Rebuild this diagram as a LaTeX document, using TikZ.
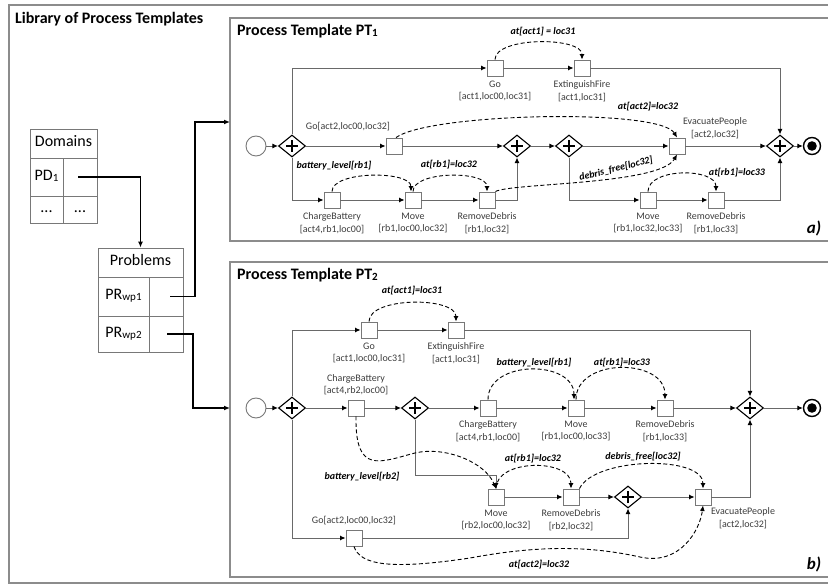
\documentclass[tikz,border=0pt]{standalone}
\usepackage{fontspec}
\setmainfont{Carlito}
\usetikzlibrary{shapes.geometric,arrows.meta,positioning}

\definecolor{framegray}{RGB}{140,140,140}
\definecolor{linegray}{RGB}{105,105,105}
\definecolor{boxgray}{RGB}{120,120,120}
\definecolor{textgray}{RGB}{60,60,60}

\newcommand\smallsub[1]{\raisebox{-0.8pt}{\fontsize{11}{11}\selectfont #1}}

\tikzset{
  panel/.style={draw=framegray, line width=1.5pt},
  heading/.style={font=\fontsize{16}{19}\selectfont\bfseries, inner sep=0pt, anchor=base west},
  cell/.style={draw=boxgray, line width=0.8pt, inner sep=0pt,
    font=\fontsize{16}{19}\selectfont, text height=11pt, text depth=4pt},
  task/.style={draw=boxgray, fill=white, line width=0.9pt, minimum size=16pt, inner sep=0pt},
  gate/.style={diamond, draw, fill=white, line width=1.1pt,
    minimum width=27pt, minimum height=22pt, inner sep=0pt,
    path picture={
      \draw[line width=2.6pt]
        ([xshift=-6pt]path picture bounding box.center) -- ([xshift=6pt]path picture bounding box.center)
        ([yshift=-6pt]path picture bounding box.center) -- ([yshift=6pt]path picture bounding box.center);
    }},
  startev/.style={circle, draw=boxgray, line width=0.9pt, minimum size=20pt, inner sep=0pt},
  endev/.style={circle, draw, line width=1.4pt, minimum size=17pt, inner sep=0pt,
    path picture={\fill (path picture bounding box.center) circle (4.8pt);}},
  flow/.style={draw=linegray, line width=0.9pt, -{Latex[length=5.5pt,width=5pt,color=black]}},
  dep/.style={dash pattern=on 4pt off 2.5pt, line width=0.9pt, -{Latex[length=5.5pt,width=5pt]}},
  link/.style={line width=1.2pt, -{Latex[length=6pt,width=5pt]}},
  tlab/.style={font=\fontsize{10}{12.5}\selectfont, text=textgray, align=center, inner sep=1pt},
  dlab/.style={font=\fontsize{10}{12}\selectfont\bfseries\itshape, inner sep=1pt},
  tag/.style={font=\fontsize{17}{17}\selectfont\bfseries\itshape, inner sep=0pt}
}

\begin{document}
\begin{tikzpicture}[x=1pt,y=-1pt]
  \useasboundingbox (0,0) rectangle (828,585);
  \draw[panel] (9,5) rectangle (840,583);
  \draw[panel] (230,18) rectangle (840,241);
  \draw[panel] (230,262) rectangle (840,577);
  \node[heading] (lib) at (15,23.3) {Library of Process Templates};
  \node[heading] (pt1t) at (237,35.3) {Process Template PT\smallsub{1}};
  \node[heading] (pt2t) at (237,279.5) {Process Template PT\smallsub{2}};
  \node[tag] (taga) at (814,228) {a)};
  \node[tag] (tagb) at (814,564) {b)};

  % domains and problems
  \node[cell, minimum width=67pt, minimum height=29pt] (dom) at (63.5,143.5) {Domains};
  \node[cell, minimum width=33pt, minimum height=38pt] (pdk) at (46.5,177) {PD\smallsub{1}};
  \node[cell, minimum width=34pt, minimum height=38pt] (pdv) at (80,177) {};
  \node[cell, minimum width=33pt, minimum height=27pt] (dk3) at (46.5,209.5) {...};
  \node[cell, minimum width=34pt, minimum height=27pt] (dv3) at (80,209.5) {...};
  \node[cell, minimum width=85pt, minimum height=29pt] (probh) at (140.5,262.5) {Problems};
  \node[cell, minimum width=51pt, minimum height=39pt] (pr1k) at (123.5,296.5) {PR\smallsub{wp1}};
  \node[cell, minimum width=34pt, minimum height=39pt] (pr1v) at (166,296.5) {};
  \node[cell, minimum width=51pt, minimum height=36pt] (pr2k) at (123.5,334) {PR\smallsub{wp2}};
  \node[cell, minimum width=34pt, minimum height=36pt] (pr2v) at (166,334) {};
  \coordinate (pt1in) at (230,122);
  \coordinate (pt2in) at (230,408);
  \draw[link] ([xshift=-2pt]pdv.center) -| (probh.north);
  \draw[link] ([xshift=4pt]pr1v.center) -- ++(25,0) |- (pt1in);
  \draw[link] ([xshift=1pt]pr2v.center) -- ++(26,0) |- (pt2in);

  % process template 1
  \node[startev] (s1) at (256,146) {};
  \node[gate] (g1) at (292,146) {};
  \node[task] (go1) at (495,68) {};
  \node[task] (ef1) at (582,68) {};
  \node[task] (ga1) at (394,146) {};
  \node[gate] (g2) at (517,146) {};
  \node[gate] (g3) at (569,146) {};
  \node[task] (ev1) at (677,146) {};
  \node[gate] (ge1) at (780,146) {};
  \node[endev] (e1) at (812,146) {};
  \node[task] (cb1) at (332,200) {};
  \node[task] (mv1) at (413,200) {};
  \node[task] (rd1) at (487,200) {};
  \node[task] (mv2) at (648,200) {};
  \node[task] (rd2) at (716,200) {};

  \node[tlab, below=3pt of go1] (go1l) {Go\\{[act1,loc00,loc31]}};
  \node[tlab, below=3pt of ef1] (ef1l) {ExtinguishFire\\{[act1,loc31]}};
  \node[tlab] (ga1l) at (348,127) {Go[act2,loc00,loc32]};
  \node[tlab] (ev1l) at (715,128) {EvacuatePeople\\{[act2,loc32]}};
  \node[tlab, below=3pt of cb1] (cb1l) {ChargeBattery\\{[act4,rb1,loc00]}};
  \node[tlab, below=3pt of mv1] (mv1l) {Move\\{[rb1,loc00,loc32]}};
  \node[tlab, below=3pt of rd1] (rd1l) {RemoveDebris\\{[rb1,loc32]}};
  \node[tlab, below=3pt of mv2] (mv2l) {Move\\{[rb1,loc32,loc33]}};
  \node[tlab, below=3pt of rd2] (rd2l) {RemoveDebris\\{[rb1,loc33]}};

  \node[dlab] (d1) at (543,32) {at[act1] = loc31};
  \node[dlab] (d2) at (648,107) {at[act2]=loc32};
  \node[dlab] (d3) at (334,166) {battery\_level[rb1]};
  \node[dlab] (d4) at (449,165) {at[rb1]=loc32};
  \node[dlab, rotate=14] (d5) at (616,169) {debris\_free[loc32]};
  \node[dlab] (d6) at (737,173) {at[rb1]=loc33};

  \draw[flow] (s1) -- (g1);
  \draw[flow] (g1.north) |- (go1);
  \draw[flow] (go1) -- (ef1);
  \draw[flow] (ef1) -| (ge1.north);
  \draw[flow] (g1) -- (ga1);
  \draw[flow] (ga1) -- (g2);
  \draw[flow] (g2) -- (g3);
  \draw[flow] (g3) -- (ev1);
  \draw[flow] (ev1) -- (ge1);
  \draw[flow] (ge1) -- (e1);
  \draw[flow] (g1.south) |- (cb1);
  \draw[flow] (cb1) -- (mv1);
  \draw[flow] (mv1) -- (rd1);
  \draw[flow] (rd1) -| (g2.south);
  \draw[flow] (g3.south) |- (mv2);
  \draw[flow] (mv2) -- (rd2);
  \draw[flow] (rd2) -| (ge1.south);

  \draw[dep] (go1.north) .. controls +(0,-23) and +(0,-23) .. (ef1.north);
  \draw[dep] ([xshift=2pt]ga1.north) .. controls (430,113) and (660,108) .. (ev1.north);
  \draw[dep] (cb1.north) .. controls +(0,-21) and +(0,-21) .. ([xshift=-2pt]mv1.north);
  \draw[dep] (mv1.north) .. controls +(0,-21) and +(0,-21) .. (rd1.north);
  \draw[dep] (rd1.north east) .. controls (510,183) and (660,185) .. (ev1.south);
  \draw[dep] (mv2.north) .. controls +(0,-24) and +(0,-24) .. (rd2.north);

  % process template 2
  \node[startev] (s2) at (256,408) {};
  \node[gate] (g4) at (292,408) {};
  \node[task] (go2) at (369,330) {};
  \node[task] (ef2) at (456,330) {};
  \node[task] (cb2) at (356,408) {};
  \node[gate] (g5) at (415,408) {};
  \node[task] (cb3) at (488,408) {};
  \node[task] (mv3) at (576,408) {};
  \node[task] (rd3) at (665,408) {};
  \node[gate] (ge2) at (750,408) {};
  \node[endev] (e2) at (812,408) {};
  \node[task] (mv4) at (496,497) {};
  \node[task] (rd4) at (571,497) {};
  \node[gate] (g6) at (628,497) {};
  \node[task] (ev2) at (703,497) {};
  \node[task] (ga2) at (354,538) {};

  \node[tlab, below=3pt of go2] (go2l) {Go\\{[act1,loc00,loc31]}};
  \node[tlab, below=3pt of ef2] (ef2l) {ExtinguishFire\\{[act1,loc31]}};
  \node[tlab, above=3pt of cb2] (cb2l) {ChargeBattery\\{[act4,rb2,loc00]}};
  \node[tlab, below=3pt of cb3] (cb3l) {ChargeBattery\\{[act4,rb1,loc00]}};
  \node[tlab, below=3pt of mv3] (mv3l) {Move\\{[rb1,loc00,loc33]}};
  \node[tlab, below=3pt of rd3] (rd3l) {RemoveDebris\\{[rb1,loc33]}};
  \node[tlab, below=3pt of mv4] (mv4l) {Move\\{[rb2,loc00,loc32]}};
  \node[tlab, below=3pt of rd4] (rd4l) {RemoveDebris\\{[rb2,loc32]}};
  \node[tlab] (ev2l) at (743,518) {EvacuatePeople\\{[act2,loc32]}};
  \node[tlab, above=3pt of ga2] (ga2l) {Go[act2,loc00,loc32]};

  \node[dlab] (d7) at (412,291) {at[act1]=loc31};
  \node[dlab] (d8) at (534,363) {battery\_level[rb1]};
  \node[dlab] (d9) at (622,363) {at[rb1]=loc33};
  \node[dlab] (d10) at (362,477) {battery\_level[rb2]};
  \node[dlab] (d11) at (533,459) {at[rb1]=loc32};
  \node[dlab] (d12) at (643,457) {debris\_free[loc32]};
  \node[dlab] (d13) at (539,565) {at[act2]=loc32};

  \draw[flow] (s2) -- (g4);
  \draw[flow] (g4.north) |- (go2);
  \draw[flow] (go2) -- (ef2);
  \draw[flow] (ef2) -| (ge2.north);
  \draw[flow] (g4) -- (cb2);
  \draw[flow] (cb2) -- (g5);
  \draw[flow] (g5) -- (cb3);
  \draw[flow] (cb3) -- (mv3);
  \draw[flow] (mv3) -- (rd3);
  \draw[flow] (rd3) -- (ge2);
  \draw[flow] (ge2) -- (e2);
  \draw[flow] (g5.south) |- ([yshift=13pt]mv4.north) -- (mv4.north);
  \draw[flow] (mv4) -- (rd4);
  \draw[flow] (rd4) -- (g6);
  \draw[flow] (g6) -- (ev2);
  \draw[flow] (ev2) -| (ge2.south);
  \draw[flow] (g4.south) |- (ga2);
  \draw[flow] (ga2) -| (g6.south);

  \draw[dep] (go2.north) .. controls +(0,-25) and +(0,-25) .. (ef2.north);
  \draw[dep] (cb3.north) .. controls +(0,-40) and +(0,-40) .. ([xshift=-2pt]mv3.north);
  \draw[dep] (mv3.north) .. controls +(0,-42) and +(0,-42) .. (rd3.north);
  \draw[dep] (mv4.north) .. controls +(0,-30) and +(0,-30) .. (rd4.north);
  \draw[dep] (rd4.north east) .. controls (595,457) and (703,455) .. (ev2.north);
  \draw[dep] (cb2.south) .. controls (355,475) and (380,462) .. (415,453)
    .. controls (445,446) and (485,462) .. (mv4.north);
  \draw[dep] (ga2.south) .. controls (360,565) and (390,570) .. (470,558)
    .. controls (540,545) and (590,546) .. (640,557)
    .. controls (680,566) and (700,530) .. (ev2.south);
\end{tikzpicture}
\end{document}
